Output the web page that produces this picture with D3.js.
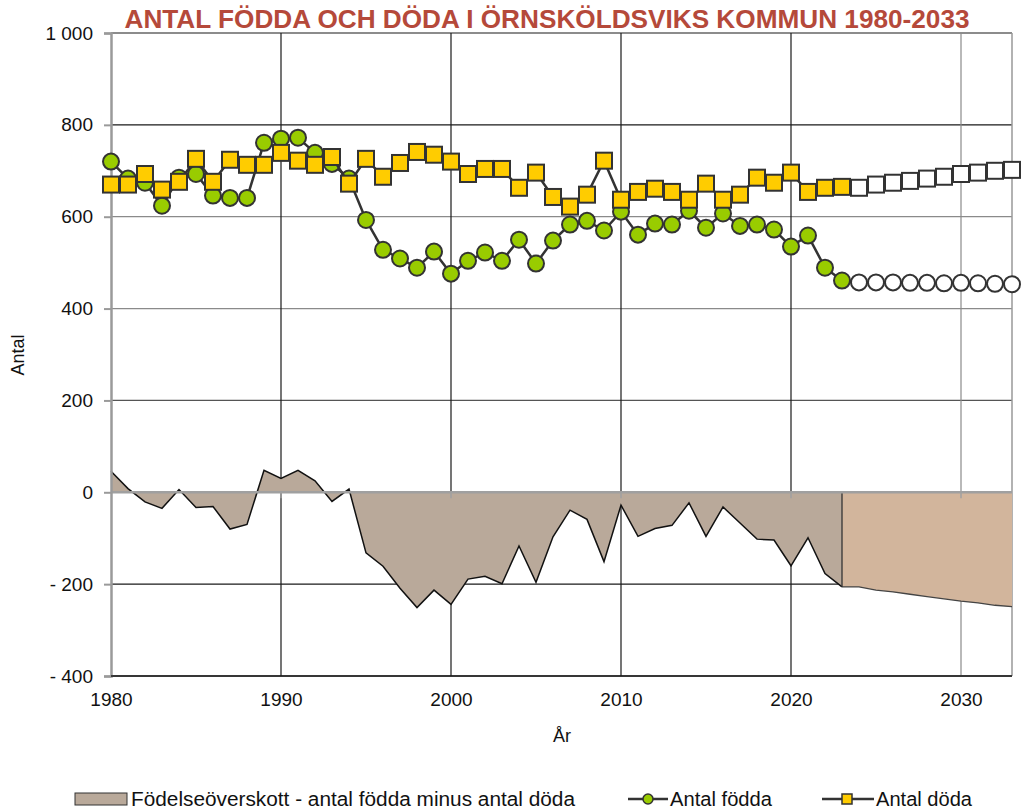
<!DOCTYPE html>
<html>
<head>
<meta charset="utf-8">
<script src="https://cdn.jsdelivr.net/npm/d3@7"></script>
<style>
  html, body { margin: 0; padding: 0; background: #fff; }
  svg { display: block; }
  text { font-family: "Liberation Sans", Arial, sans-serif; fill: #111; }
</style>
</head>
<body>
<svg id="chart" width="1022" height="809"></svg>
<script>
// ---------- DATA ----------
const yearsHist = [1980,1981,1982,1983,1984,1985,1986,1987,1988,1989,
                   1990,1991,1992,1993,1994,1995,1996,1997,1998,1999,
                   2000,2001,2002,2003,2004,2005,2006,2007,2008,2009,
                   2010,2011,2012,2013,2014,2015,2016,2017,2018,2019,
                   2020,2021,2022,2023];
const yearsProj = [2024,2025,2026,2027,2028,2029,2030,2031,2032,2033];

const birthsHist = [720,683,674,624,685,693,646,641,641,761,
                    770,772,739,715,683,593,528,509,489,524,
                    476,504,522,504,550,498,548,583,591,570,
                    611,561,585,583,613,576,607,580,583,572,
                    535,559,489,461];
const birthsProj = [457,457,457,456,456,455,456,455,454,453];

const deathsHist = [670,670,693,659,676,726,676,724,713,713,
                    739,722,713,730,672,726,687,717,741,735,
                    720,693,704,704,663,696,643,622,648,722,
                    637,654,661,654,637,672,637,648,685,674,
                    696,654,663,665];
const deathsProj = [663,670,674,678,683,687,693,696,700,702];

// Födelseöverskott (births minus deaths) as drawn
const surplusHist = [46,8,-21,-35,6,-33,-31,-80,-70,48,
                     30,48,25,-20,7,-132,-161,-209,-251,-213,
                     -244,-189,-183,-199,-117,-196,-97,-39,-59,-151,
                     -28,-96,-79,-72,-23,-96,-32,-67,-102,-104,
                     -160,-99,-177,-206];
const surplusProjYears = [2023,2024,2025,2026,2027,2028,2029,2030,2031,2032,2033];
const surplusProj = [-206,-206,-213,-217,-222,-227,-232,-237,-241,-246,-249];

const yTicks = [-400,-200,0,200,400,600,800,1000];
const yTickLabels = ["- 400","- 200","0","200","400","600","800","1 000"];
const xTicks = [1980,1990,2000,2010,2020,2030];
const xTickLabels = ["1980","1990","2000","2010","2020","2030"];

const titleText = "ANTAL FÖDDA OCH DÖDA I ÖRNSKÖLDSVIKS KOMMUN 1980-2033";
const yAxisTitle = "Antal";
const xAxisTitle = "År";
const legendLabels = ["Födelseöverskott - antal födda minus antal döda", "Antal födda", "Antal döda"];

// ---------- SETUP ----------
const svg = d3.select("#chart");
const pL = 111, pR = 1012, pT = 33, pB = 676;
const x = d3.scaleLinear().domain([1980, 2033]).range([pL, pR]);
const y = d3.scaleLinear().domain([-400, 1000]).range([pB, pT]);

const C = {
  green: "#99cc00", yellow: "#ffcc00", dark: "#333333",
  areaHist: "#b9a99a", areaProj: "#d2b59c", title: "#b5493a"
};

// ---------- GRIDLINES ----------
const hStyle = v => (v === 1000 || v === 800 || v === -200 || v === -400) ? "#1a1a1a" : (v === 200 ? "#555" : "#8a8a8a");
svg.append("g").selectAll("line").data(yTicks.filter(v => v !== 0)).join("line")
  .attr("x1", pL).attr("x2", pR)
  .attr("y1", d => y(d)).attr("y2", d => y(d))
  .attr("stroke", d => hStyle(d)).attr("stroke-width", 1.2);

svg.append("g").selectAll("line").data(xTicks.filter(v => v !== 1980)).join("line")
  .attr("x1", d => x(d)).attr("x2", d => x(d))
  .attr("y1", pT).attr("y2", pB)
  .attr("stroke", d => d === 2030 ? "#8a8a8a" : "#1a1a1a").attr("stroke-width", 1.2);

// right border
svg.append("line").attr("x1", pR).attr("x2", pR).attr("y1", pT).attr("y2", pB)
  .attr("stroke", "#999").attr("stroke-width", 1.5);

// ---------- AREAS ----------
const histPts = yearsHist.map((yr, i) => [yr, surplusHist[i]]);
const projPts = surplusProjYears.map((yr, i) => [yr, surplusProj[i]]);
const area = d3.area().x(d => x(d[0])).y0(y(0)).y1(d => y(d[1]));
const line = d3.line().x(d => x(d[0])).y(d => y(d[1]));

svg.append("path").datum(histPts).attr("d", area).attr("fill", C.areaHist);
svg.append("path").datum(projPts).attr("d", area).attr("fill", C.areaProj);
svg.append("path").datum(histPts).attr("d", line).attr("fill", "none")
  .attr("stroke", "#111").attr("stroke-width", 1.5).attr("stroke-linejoin", "miter");
svg.append("path").datum(projPts).attr("d", line).attr("fill", "none")
  .attr("stroke", "#444").attr("stroke-width", 1.3);
svg.append("line").attr("x1", x(2023)).attr("x2", x(2023))
  .attr("y1", y(0)).attr("y2", y(surplusProj[0]))
  .attr("stroke", "#333").attr("stroke-width", 1.3);

// zero line
svg.append("line").attr("x1", pL).attr("x2", pR).attr("y1", y(0)).attr("y2", y(0))
  .attr("stroke", "#a0a0a0").attr("stroke-width", 2.5);
// small ticks under zero line
svg.append("g").selectAll("line").data(xTicks.filter(v => v !== 1980)).join("line")
  .attr("x1", d => x(d)).attr("x2", d => x(d))
  .attr("y1", y(0)).attr("y2", y(0) + 6)
  .attr("stroke", "#a0a0a0").attr("stroke-width", 1.5);

// ---------- AXES ----------
const yAxis = svg.append("g").attr("transform", `translate(${pL},0)`)
  .call(d3.axisLeft(y).tickValues(yTicks).tickFormat((d, i) => yTickLabels[i]).tickSize(7).tickPadding(11));
yAxis.select(".domain").attr("stroke", "#9a9a9a").attr("stroke-width", 2.5);
yAxis.selectAll(".tick line").attr("stroke", "#9a9a9a").attr("stroke-width", 2);
yAxis.selectAll(".tick text").attr("font-size", 19).attr("fill", "#111")
  .attr("font-family", "'Liberation Sans', Arial, sans-serif");

const xAxis = svg.append("g").attr("transform", `translate(0,${pB})`)
  .call(d3.axisBottom(x).tickValues(xTicks).tickFormat((d, i) => xTickLabels[i]).tickSize(0).tickPadding(17));
xAxis.select(".domain").remove();
xAxis.selectAll(".tick text").attr("font-size", 19).attr("fill", "#111")
  .attr("font-family", "'Liberation Sans', Arial, sans-serif");
svg.append("line").attr("x1", pL).attr("x2", pR).attr("y1", pB).attr("y2", pB)
  .attr("stroke", "#1a1a1a").attr("stroke-width", 1.5);

// ---------- LINE SERIES ----------
const birthsAll = yearsHist.map((yr, i) => [yr, birthsHist[i]]).concat(yearsProj.map((yr, i) => [yr, birthsProj[i]]));
const deathsAll = yearsHist.map((yr, i) => [yr, deathsHist[i]]).concat(yearsProj.map((yr, i) => [yr, deathsProj[i]]));
const nHist = yearsHist.length;

svg.append("path").datum(birthsAll).attr("d", line).attr("fill", "none")
  .attr("stroke", C.dark).attr("stroke-width", 2.5);
svg.append("g").selectAll("circle").data(birthsAll).join("circle")
  .attr("cx", d => x(d[0])).attr("cy", d => y(d[1])).attr("r", 8)
  .attr("fill", (d, i) => i < nHist ? C.green : "#fff")
  .attr("stroke", C.dark).attr("stroke-width", 2);

svg.append("path").datum(deathsAll).attr("d", line).attr("fill", "none")
  .attr("stroke", C.dark).attr("stroke-width", 2.5);
svg.append("g").selectAll("rect").data(deathsAll).join("rect")
  .attr("x", d => x(d[0]) - 8).attr("y", d => y(d[1]) - 8)
  .attr("width", 16).attr("height", 16)
  .attr("fill", (d, i) => i < nHist ? C.yellow : "#fff")
  .attr("stroke", C.dark).attr("stroke-width", 2);

// ---------- TITLES ----------
svg.append("text").attr("x", 547).attr("y", 28).attr("text-anchor", "middle")
  .attr("font-size", 26).attr("font-weight", "bold")
  .attr("font-family", "'Liberation Sans Narrow', 'DejaVu Sans Condensed', Arial, sans-serif")
  .style("fill", C.title)
  .attr("textLength", 845).attr("lengthAdjust", "spacingAndGlyphs")
  .text(titleText);

svg.append("text").attr("transform", "translate(24,355) rotate(-90)")
  .attr("text-anchor", "middle").attr("font-size", 18).text(yAxisTitle);
svg.append("text").attr("x", 562).attr("y", 742).attr("text-anchor", "middle")
  .attr("font-size", 18).text(xAxisTitle);

// ---------- LEGEND ----------
const lg = svg.append("g");
const ly = 799;
const narrow = "'Liberation Sans Narrow', 'DejaVu Sans Condensed', Arial, sans-serif";
lg.append("rect").attr("x", 75).attr("y", ly - 6).attr("width", 52).attr("height", 12)
  .attr("fill", C.areaHist).attr("stroke", "#333").attr("stroke-width", 1);
lg.append("text").attr("x", 131).attr("y", ly + 7).attr("font-size", 20)
  .attr("font-family", narrow)
  .attr("textLength", 444).attr("lengthAdjust", "spacingAndGlyphs")
  .text(legendLabels[0]);

lg.append("line").attr("x1", 628).attr("x2", 668).attr("y1", ly).attr("y2", ly)
  .attr("stroke", C.dark).attr("stroke-width", 2.5);
lg.append("circle").attr("cx", 648).attr("cy", ly).attr("r", 5)
  .attr("fill", C.green).attr("stroke", C.dark).attr("stroke-width", 1.5);
lg.append("text").attr("x", 670).attr("y", ly + 7).attr("font-size", 20)
  .attr("font-family", narrow)
  .attr("textLength", 102).attr("lengthAdjust", "spacingAndGlyphs")
  .text(legendLabels[1]);

lg.append("line").attr("x1", 822).attr("x2", 874).attr("y1", ly).attr("y2", ly)
  .attr("stroke", C.dark).attr("stroke-width", 2.5);
lg.append("rect").attr("x", 842).attr("y", ly - 5).attr("width", 10).attr("height", 10)
  .attr("fill", C.yellow).attr("stroke", C.dark).attr("stroke-width", 1.5);
lg.append("text").attr("x", 876).attr("y", ly + 7).attr("font-size", 20)
  .attr("font-family", narrow)
  .attr("textLength", 96).attr("lengthAdjust", "spacingAndGlyphs")
  .text(legendLabels[2]);
</script>
</body>
</html>
